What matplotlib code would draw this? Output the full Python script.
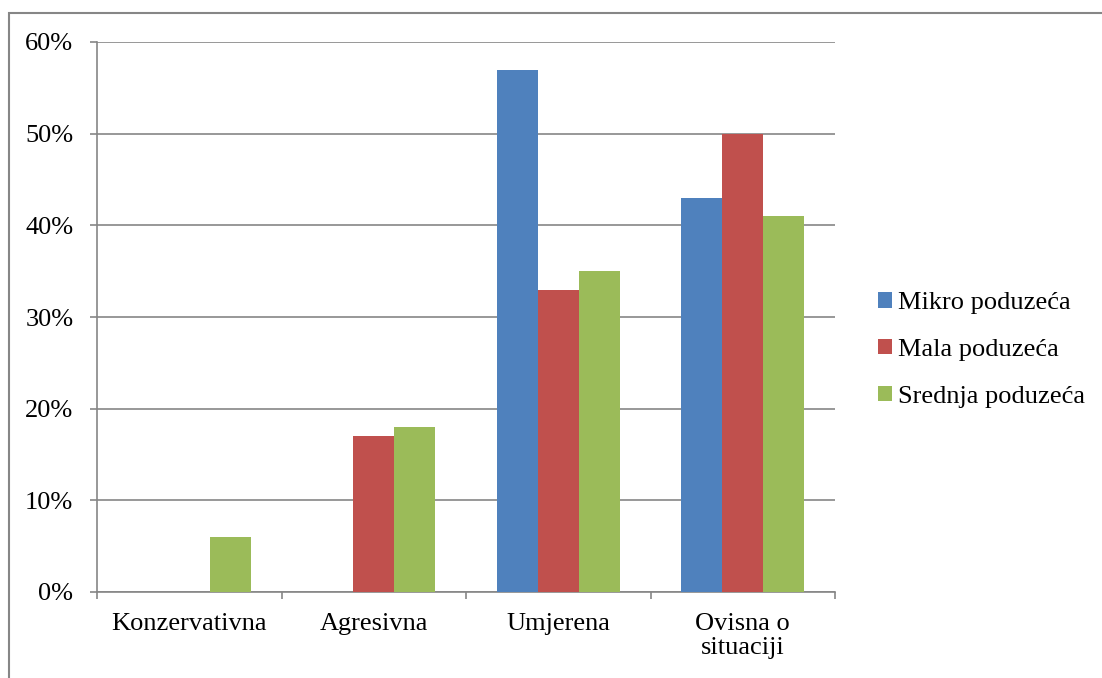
import matplotlib
matplotlib.use("Agg")
import matplotlib.pyplot as plt
import numpy as np

categories = ["Konzervativna", "Agresivna", "Umjerena", "Ovisna o\nsituaciji"]
series = ["Mikro poduzeća", "Mala poduzeća", "Srednja poduzeća"]
mikro = [0, 0, 57, 43]
mala = [0, 17, 33, 50]
srednja = [6, 18, 35, 41]
colors = ["#4F81BD", "#C0504D", "#9BBB59"]

plt.rcParams['font.family'] = ['Liberation Serif', 'DejaVu Serif']
plt.rcParams['font.size'] = 19

fig = plt.figure(figsize=(11.02, 6.78), dpi=100)
ax = fig.add_axes([97 / 1102, 1 - 592 / 678, (835 - 97) / 1102, (592 - 42) / 678])

# outer chart border
fig.patches.append(plt.Rectangle((9 / 1102, -0.05), 1.1, 1 - 13 / 678 + 0.05,
                                 transform=fig.transFigure, fill=False,
                                 edgecolor="#868686", linewidth=1.5))

x = np.arange(len(categories))
w = 1 / 4.5
for i, (vals, name) in enumerate(zip([mikro, mala, srednja], series)):
    ax.bar(x + (i - 1) * w, vals, width=w, color=colors[i], label=name, zorder=3)

ax.set_xlim(-0.5, len(categories) - 0.5)
ax.set_ylim(0, 60)
ax.set_yticks(range(0, 61, 10))
ax.set_yticklabels([f"{v}%" for v in range(0, 61, 10)])
ax.yaxis.grid(True, color="#868686", linewidth=1.2, zorder=0)

ax.set_xticks(x)
ax.set_xticklabels(categories, linespacing=1.12)
ax.set_xticks(np.arange(-0.5, len(categories), 1), minor=True)
ax.tick_params(axis="x", which="major", length=0, pad=15)
ax.tick_params(axis="x", which="minor", length=5, color="#868686", width=1.2)
ax.tick_params(axis="y", length=5, color="#868686", width=1.2, pad=12)

for s in ["top", "right"]:
    ax.spines[s].set_visible(False)
for s in ["left", "bottom"]:
    ax.spines[s].set_color("#868686")
    ax.spines[s].set_linewidth(1.2)

ax.legend(loc="center left", bbox_to_anchor=(1.058, 0.44), frameon=False,
          borderpad=0, borderaxespad=0,
          handlelength=0.53, handleheight=0.53, handletextpad=0.25, labelspacing=0.93)

fig.savefig("out.png", dpi=100)
